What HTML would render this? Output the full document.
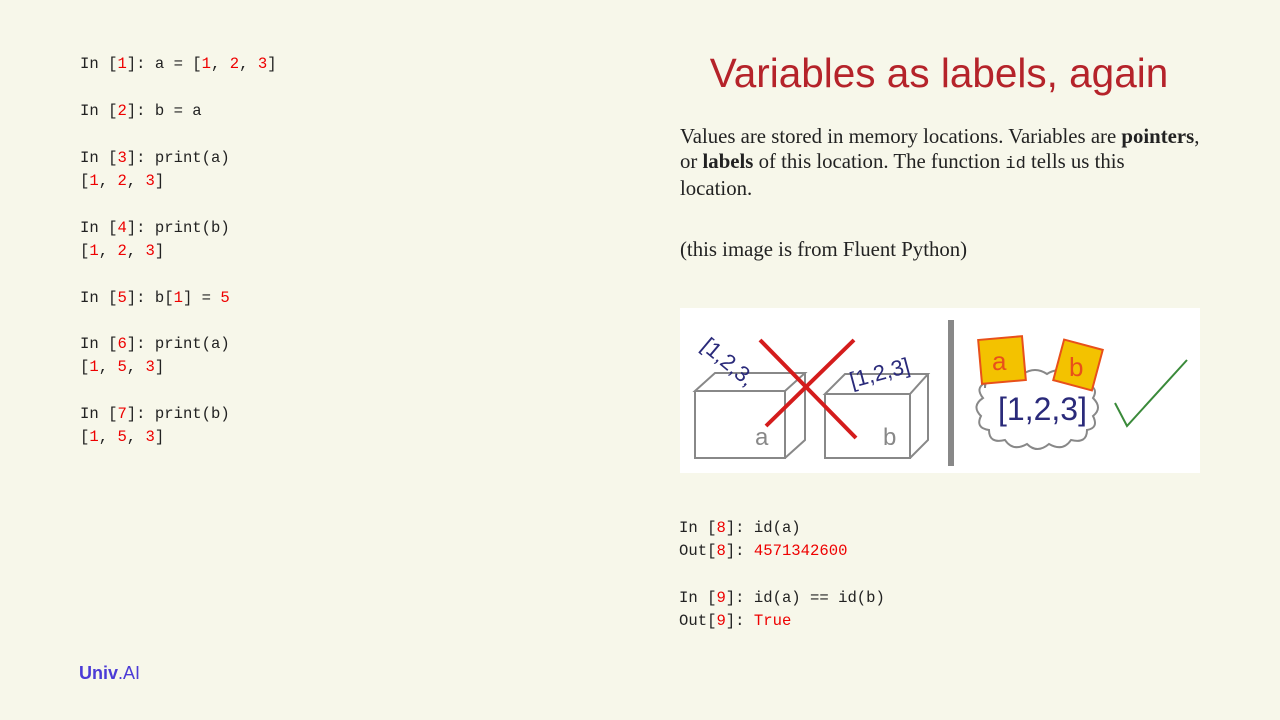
<!DOCTYPE html>
<html><head><meta charset="utf-8"><style>
body{margin:0;width:1280px;height:720px;background:#f7f7ea;position:relative;overflow:hidden;font-family:"Liberation Sans",sans-serif}
.m{position:absolute;font-family:"Liberation Mono",monospace;font-size:15.6px;color:#222;white-space:pre;line-height:23px}
.r{color:#e00}
.t{position:absolute;left:640px;width:598px;text-align:center;top:50px;font-size:40.5px;color:#b5232a;white-space:nowrap}
.p{position:absolute;left:680px;font-family:"Liberation Serif",serif;font-size:20.8px;color:#222;white-space:nowrap;line-height:24.5px}
.p code{font-family:"Liberation Mono",monospace;font-size:17px}
</style></head><body>
<div class="m" style="left:80px;top:53px">In [<span class="r">1</span>]: a = [<span class="r">1</span>, <span class="r">2</span>, <span class="r">3</span>]</div>
<div class="m" style="left:80px;top:100px">In [<span class="r">2</span>]: b = a</div>
<div class="m" style="left:80px;top:147px">In [<span class="r">3</span>]: print(a)
[<span class="r">1</span>, <span class="r">2</span>, <span class="r">3</span>]</div>
<div class="m" style="left:80px;top:217px">In [<span class="r">4</span>]: print(b)
[<span class="r">1</span>, <span class="r">2</span>, <span class="r">3</span>]</div>
<div class="m" style="left:80px;top:287px">In [<span class="r">5</span>]: b[<span class="r">1</span>] = <span class="r">5</span></div>
<div class="m" style="left:80px;top:333px">In [<span class="r">6</span>]: print(a)
[<span class="r">1</span>, <span class="r">5</span>, <span class="r">3</span>]</div>
<div class="m" style="left:80px;top:403px">In [<span class="r">7</span>]: print(b)
[<span class="r">1</span>, <span class="r">5</span>, <span class="r">3</span>]</div>

<div class="t">Variables as labels, again</div>
<div class="p" style="top:125px">Values are stored in memory locations. Variables are <b>pointers</b>,<br>or <b>labels</b> of this location. The function <code>id</code> tells us this<br>location.</div>
<div class="p" style="top:238px">(this image is from Fluent Python)</div>

<svg style="position:absolute;left:680px;top:308px" width="520" height="165" viewBox="0 0 520 165">
<rect width="520" height="165" fill="#fff"/>
<g fill="none" stroke="#888" stroke-width="2">
<path d="M15 83 L35 65 L125 65 L105 83 Z M15 83 L15 150 L105 150 L105 83 M105 150 L125 132 L125 65"/>
<path d="M145 86 L165 66 L248 66 L230 86 Z M145 86 L145 150 L230 150 L230 86 M230 150 L248 132 L248 66"/>
<path d="M305 75 q-10 5 -2 15 q-12 8 -2 18 q-6 12 8 14 q0 14 16 10 q8 12 22 4 q10 10 22 0 q14 8 22 -4 q16 4 16 -10 q12 -2 6 -14 q10 -8 0 -18 q6 -10 -6 -14 q-4 -12 -18 -8 q-10 -10 -22 -2 q-12 -8 -24 0 q-14 -6 -22 4 q-16 -2 -16 10 z"/>
</g>
<text x="75" y="137" font-family="Liberation Sans" font-size="24" fill="#888">a</text>
<text x="203" y="137" font-family="Liberation Sans" font-size="24" fill="#888">b</text>
<text x="20" y="40" font-family="Liberation Sans" font-size="22" fill="#2a2a7a" transform="rotate(40 20 40)">[1,2,3,</text>
<text x="172" y="80" font-family="Liberation Sans" font-size="22" fill="#2a2a7a" transform="rotate(-15 172 80)">[1,2,3]</text>
<g stroke="#d41c1c" stroke-width="4"><line x1="80" y1="32" x2="176" y2="130"/><line x1="86" y1="118" x2="174" y2="32"/></g>
<rect x="268" y="12" width="6" height="146" fill="#888"/>
<text x="318" y="112" font-family="Liberation Sans" font-size="32" fill="#2a2a7a">[1,2,3]</text>
<rect x="300" y="30" width="44" height="44" fill="#f3c200" stroke="#e8501a" stroke-width="2" transform="rotate(-5 322 52)"/>
<text x="312" y="62" font-family="Liberation Sans" font-size="26" fill="#e8501a">a</text>
<rect x="378" y="36" width="40" height="42" fill="#f3c200" stroke="#e8501a" stroke-width="2" transform="rotate(15 398 57)"/>
<text x="389" y="68" font-family="Liberation Sans" font-size="26" fill="#e8501a">b</text>
<path d="M435 95 L447 118 L507 52" fill="none" stroke="#3a8a3a" stroke-width="2"/>
</svg>

<div class="m" style="left:679px;top:517px">In [<span class="r">8</span>]: id(a)
Out[<span class="r">8</span>]: <span class="r">4571342600</span></div>
<div class="m" style="left:679px;top:587px">In [<span class="r">9</span>]: id(a) == id(b)
Out[<span class="r">9</span>]: <span class="r">True</span></div>

<div style="position:absolute;left:79px;top:663px;font-size:18px;font-weight:bold;color:#4b3bd6">Univ<span style="font-weight:normal">.AI</span></div>
</body></html>
